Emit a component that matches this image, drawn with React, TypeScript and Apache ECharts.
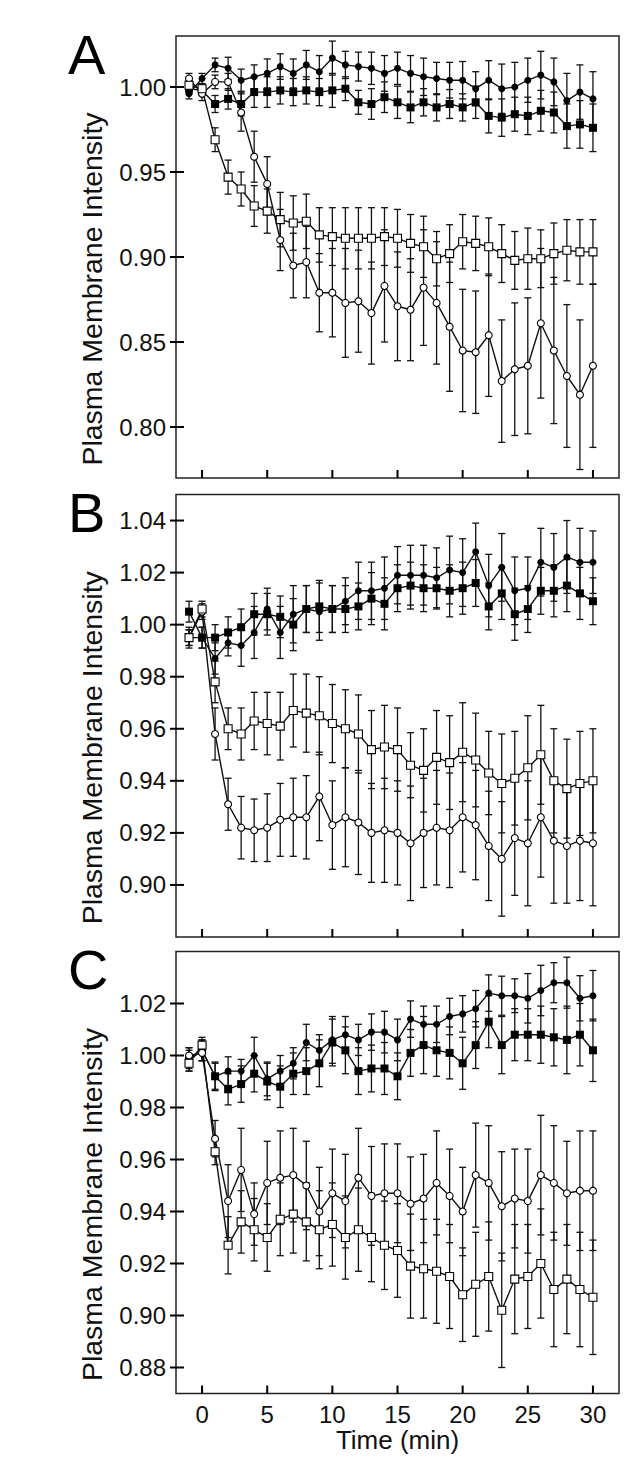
import * as echarts from 'echarts';
import type { ECharts, EChartsOption } from 'echarts';
import React, { useEffect, useRef } from 'react';

// time points (min)
const times = [-1, 0, 1, 2, 3, 4, 5, 6, 7, 8, 9, 10, 11, 12, 13, 14, 15, 16, 17, 18, 19, 20, 21, 22, 23, 24, 25, 26, 27, 28, 29, 30];

const xTicks = [0, 5, 10, 15, 20, 25, 30];
const aTicks = [0.80, 0.85, 0.90, 0.95, 1.00];
const bTicks = [0.90, 0.92, 0.94, 0.96, 0.98, 1.00, 1.02, 1.04];
const cTicks = [0.88, 0.90, 0.92, 0.94, 0.96, 0.98, 1.00, 1.02];

// Panel A
const aFilledCircle = [0.996, 1.005, 1.013, 1.011, 1.004, 1.006, 1.008, 1.012, 1.008, 1.013, 1.009, 1.017, 1.013, 1.012, 1.011, 1.008, 1.011, 1.008, 1.006, 1.005, 1.004, 1.004, 0.999, 1.004, 0.999, 1.000, 1.004, 1.007, 1.003, 0.992, 0.997, 0.993];
const aFilledCircleErr = [0.003, 0.003, 0.004, 0.0065, 0.0065, 0.007, 0.0085, 0.0075, 0.0085, 0.0085, 0.0095, 0.010, 0.008, 0.0085, 0.0095, 0.0105, 0.0095, 0.0105, 0.011, 0.0095, 0.0105, 0.011, 0.010, 0.0115, 0.0145, 0.0145, 0.013, 0.014, 0.014, 0.016, 0.016, 0.016];
const aFilledSquare = [0.999, 0.998, 0.990, 0.993, 0.990, 0.997, 0.997, 0.998, 0.997, 0.998, 0.997, 0.998, 0.999, 0.991, 0.990, 0.994, 0.991, 0.988, 0.991, 0.988, 0.990, 0.988, 0.991, 0.983, 0.982, 0.984, 0.983, 0.986, 0.985, 0.977, 0.978, 0.976];
const aFilledSquareErr = [0.003, 0.003, 0.005, 0.006, 0.007, 0.009, 0.009, 0.008, 0.008, 0.008, 0.008, 0.010, 0.007, 0.007, 0.009, 0.009, 0.0095, 0.009, 0.008, 0.008, 0.0085, 0.008, 0.0095, 0.010, 0.011, 0.010, 0.011, 0.012, 0.012, 0.013, 0.014, 0.014];
const aOpenCircle = [1.005, 0.996, 1.003, 1.003, 0.985, 0.959, 0.943, 0.910, 0.895, 0.897, 0.879, 0.879, 0.873, 0.874, 0.867, 0.883, 0.871, 0.869, 0.882, 0.873, 0.859, 0.845, 0.844, 0.854, 0.827, 0.834, 0.836, 0.861, 0.845, 0.830, 0.819, 0.836];
const aOpenCircleErr = [0.003, 0.004, 0.004, 0.005, 0.011, 0.015, 0.016, 0.018, 0.019, 0.021, 0.023, 0.026, 0.032, 0.030, 0.030, 0.033, 0.032, 0.030, 0.034, 0.036, 0.038, 0.036, 0.036, 0.036, 0.036, 0.039, 0.040, 0.044, 0.043, 0.042, 0.044, 0.048];
const aOpenSquare = [1.001, 0.999, 0.969, 0.947, 0.940, 0.930, 0.927, 0.922, 0.920, 0.921, 0.913, 0.912, 0.911, 0.911, 0.911, 0.912, 0.911, 0.908, 0.906, 0.899, 0.902, 0.909, 0.908, 0.906, 0.902, 0.898, 0.899, 0.899, 0.902, 0.904, 0.903, 0.903];
const aOpenSquareErr = [0.003, 0.003, 0.007, 0.010, 0.010, 0.012, 0.013, 0.016, 0.016, 0.016, 0.016, 0.017, 0.018, 0.018, 0.018, 0.017, 0.017, 0.017, 0.018, 0.016, 0.017, 0.016, 0.016, 0.017, 0.017, 0.017, 0.018, 0.017, 0.018, 0.018, 0.019, 0.019];

// Panel B
const bFilledCircle = [0.995, 0.995, 0.987, 0.993, 0.992, 0.997, 1.006, 0.997, 1.004, 1.006, 1.005, 1.006, 1.009, 1.013, 1.013, 1.014, 1.019, 1.019, 1.019, 1.018, 1.021, 1.020, 1.028, 1.015, 1.022, 1.013, 1.014, 1.024, 1.022, 1.026, 1.024, 1.024];
const bFilledCircleErr = [0.004, 0.004, 0.006, 0.005, 0.008, 0.010, 0.008, 0.010, 0.011, 0.009, 0.011, 0.009, 0.009, 0.011, 0.011, 0.012, 0.011, 0.0115, 0.0115, 0.0115, 0.013, 0.013, 0.011, 0.012, 0.013, 0.013, 0.012, 0.013, 0.013, 0.014, 0.013, 0.012];
const bFilledSquare = [1.005, 0.995, 0.995, 0.997, 0.999, 1.004, 1.004, 1.003, 1.000, 1.006, 1.007, 1.006, 1.006, 1.007, 1.010, 1.008, 1.014, 1.015, 1.014, 1.014, 1.013, 1.014, 1.016, 1.007, 1.012, 1.004, 1.006, 1.013, 1.013, 1.015, 1.012, 1.009];
const bFilledSquareErr = [0.004, 0.004, 0.005, 0.006, 0.007, 0.008, 0.008, 0.008, 0.010, 0.009, 0.010, 0.009, 0.009, 0.009, 0.010, 0.010, 0.009, 0.009, 0.009, 0.008, 0.010, 0.010, 0.009, 0.009, 0.010, 0.010, 0.009, 0.009, 0.010, 0.010, 0.010, 0.009];
const bOpenCircle = [0.995, 1.005, 0.958, 0.931, 0.922, 0.921, 0.922, 0.925, 0.926, 0.926, 0.934, 0.923, 0.926, 0.924, 0.920, 0.921, 0.920, 0.916, 0.920, 0.922, 0.921, 0.926, 0.923, 0.915, 0.910, 0.918, 0.916, 0.926, 0.917, 0.915, 0.917, 0.916];
const bOpenCircleErr = [0.003, 0.003, 0.010, 0.010, 0.012, 0.012, 0.013, 0.014, 0.015, 0.016, 0.017, 0.017, 0.019, 0.020, 0.019, 0.020, 0.020, 0.022, 0.021, 0.022, 0.022, 0.021, 0.021, 0.021, 0.022, 0.022, 0.024, 0.023, 0.024, 0.022, 0.023, 0.024];
const bOpenSquare = [0.995, 1.006, 0.978, 0.960, 0.958, 0.963, 0.962, 0.961, 0.967, 0.966, 0.965, 0.962, 0.960, 0.958, 0.952, 0.953, 0.952, 0.946, 0.944, 0.949, 0.947, 0.951, 0.948, 0.943, 0.939, 0.941, 0.945, 0.950, 0.940, 0.937, 0.939, 0.940];
const bOpenSquareErr = [0.003, 0.003, 0.008, 0.008, 0.010, 0.011, 0.012, 0.013, 0.014, 0.015, 0.015, 0.015, 0.015, 0.015, 0.015, 0.016, 0.016, 0.0125, 0.016, 0.018, 0.018, 0.019, 0.018, 0.016, 0.019, 0.018, 0.020, 0.019, 0.020, 0.019, 0.020, 0.020];

// Panel C
const cFilledCircle = [0.999, 1.002, 0.992, 0.994, 0.994, 1.000, 0.991, 0.994, 0.997, 1.005, 1.002, 1.006, 1.008, 1.006, 1.009, 1.009, 1.006, 1.014, 1.012, 1.012, 1.015, 1.016, 1.018, 1.024, 1.023, 1.023, 1.022, 1.025, 1.028, 1.028, 1.022, 1.023];
const cFilledCircleErr = [0.004, 0.004, 0.0055, 0.0055, 0.0045, 0.007, 0.0065, 0.006, 0.006, 0.007, 0.006, 0.009, 0.007, 0.006, 0.007, 0.008, 0.008, 0.007, 0.007, 0.007, 0.007, 0.007, 0.007, 0.007, 0.0075, 0.0065, 0.0095, 0.0097, 0.0077, 0.0098, 0.0087, 0.0097];
const cFilledSquare = [0.998, 1.002, 0.992, 0.987, 0.989, 0.993, 0.990, 0.988, 0.993, 0.994, 0.997, 1.005, 1.002, 0.994, 0.995, 0.995, 0.992, 1.001, 1.004, 1.002, 1.001, 0.997, 1.004, 1.013, 1.004, 1.008, 1.008, 1.008, 1.007, 1.006, 1.008, 1.002];
const cFilledSquareErr = [0.004, 0.004, 0.005, 0.006, 0.007, 0.007, 0.007, 0.008, 0.008, 0.009, 0.009, 0.009, 0.009, 0.009, 0.009, 0.010, 0.009, 0.009, 0.011, 0.010, 0.010, 0.010, 0.009, 0.010, 0.011, 0.010, 0.010, 0.011, 0.011, 0.013, 0.012, 0.012];
const cOpenCircle = [1.000, 1.001, 0.968, 0.944, 0.956, 0.939, 0.951, 0.953, 0.954, 0.950, 0.940, 0.947, 0.944, 0.953, 0.946, 0.947, 0.947, 0.943, 0.945, 0.951, 0.946, 0.940, 0.954, 0.951, 0.942, 0.945, 0.944, 0.954, 0.951, 0.947, 0.948, 0.948];
const cOpenCircleErr = [0.003, 0.003, 0.007, 0.014, 0.016, 0.012, 0.016, 0.018, 0.018, 0.017, 0.017, 0.017, 0.018, 0.019, 0.019, 0.019, 0.019, 0.018, 0.017, 0.020, 0.018, 0.017, 0.020, 0.022, 0.021, 0.019, 0.020, 0.023, 0.022, 0.020, 0.023, 0.023];
const cOpenSquare = [0.997, 1.004, 0.963, 0.927, 0.936, 0.933, 0.930, 0.937, 0.939, 0.936, 0.933, 0.935, 0.930, 0.933, 0.930, 0.927, 0.925, 0.919, 0.918, 0.917, 0.915, 0.908, 0.912, 0.915, 0.902, 0.914, 0.915, 0.920, 0.910, 0.914, 0.910, 0.907];
const cOpenSquareErr = [0.003, 0.003, 0.005, 0.011, 0.012, 0.012, 0.013, 0.014, 0.015, 0.015, 0.015, 0.016, 0.016, 0.016, 0.017, 0.017, 0.018, 0.020, 0.019, 0.020, 0.020, 0.018, 0.020, 0.021, 0.022, 0.021, 0.020, 0.021, 0.022, 0.021, 0.022, 0.022];

const FONT = '"Liberation Sans", Arial, Helvetica, sans-serif';
const INK = '#111';
const X_MIN = -2;
const X_MAX = 32;

type Marker = 'filledCircle' | 'filledSquare' | 'openCircle' | 'openSquare';

const errorBars = (idx: number, values: number[], errs: number[]) => ({
  type: 'custom' as const,
  xAxisIndex: idx,
  yAxisIndex: idx,
  z: 1,
  silent: true,
  encode: { x: 0, y: 1 },
  data: times.map((t, i) => [t, values[i], errs[i]]),
  renderItem: (params: any, api: any) => {
    const x = api.value(0);
    const y = api.value(1);
    const e = api.value(2);
    const top = api.coord([x, y + e]);
    const bot = api.coord([x, y - e]);
    const hw = 3.5;
    const style = { stroke: INK, lineWidth: 1.3 };
    return {
      type: 'group',
      children: [
        { type: 'line', shape: { x1: top[0], y1: top[1], x2: bot[0], y2: bot[1] }, style },
        { type: 'line', shape: { x1: top[0] - hw, y1: top[1], x2: top[0] + hw, y2: top[1] }, style },
        { type: 'line', shape: { x1: bot[0] - hw, y1: bot[1], x2: bot[0] + hw, y2: bot[1] }, style },
      ],
    };
  },
});

const lineSeries = (idx: number, name: string, values: number[], marker: Marker) => {
  const filled = marker === 'filledCircle' || marker === 'filledSquare';
  const square = marker === 'filledSquare' || marker === 'openSquare';
  return {
    type: 'line' as const,
    name,
    xAxisIndex: idx,
    yAxisIndex: idx,
    z: filled ? 3 : 4,
    data: times.map((t, i) => [t, values[i]]),
    symbol: square ? 'rect' : 'circle',
    symbolSize: square ? 8 : 7,
    showAllSymbol: true,
    lineStyle: { color: INK, width: 1.4 },
    itemStyle: filled
      ? { color: '#000', borderColor: '#000', borderWidth: 0 }
      : { color: '#fff', borderColor: '#000', borderWidth: 1.1 },
    emphasis: { disabled: true },
  };
};

const panelLayout = [
  { letter: 'A', top: 36, height: 442, min: 0.77, max: 1.03, ticks: aTicks },
  { letter: 'B', top: 494.5, height: 442.5, min: 0.88, max: 1.05, ticks: bTicks },
  { letter: 'C', top: 951.5, height: 442, min: 0.87, max: 1.04, ticks: cTicks },
];

const panelData = [
  [aFilledCircle, aFilledCircleErr, aFilledSquare, aFilledSquareErr, aOpenCircle, aOpenCircleErr, aOpenSquare, aOpenSquareErr],
  [bFilledCircle, bFilledCircleErr, bFilledSquare, bFilledSquareErr, bOpenCircle, bOpenCircleErr, bOpenSquare, bOpenSquareErr],
  [cFilledCircle, cFilledCircleErr, cFilledSquare, cFilledSquareErr, cOpenCircle, cOpenCircleErr, cOpenSquare, cOpenSquareErr],
];

const App: React.FC = () => {
  const chartRef = useRef<HTMLDivElement>(null);
  const chartInstance = useRef<ECharts | null>(null);

  useEffect(() => {
    document.body.style.margin = '0';
    if (!chartRef.current) return;
    const chart = echarts.init(chartRef.current, undefined, { renderer: 'svg' });
    chartInstance.current = chart;

    const left = 176;
    const width = 443;

    const grid = panelLayout.map((p) => ({
      left,
      top: p.top,
      width,
      height: p.height,
      show: true,
      borderColor: '#222',
      borderWidth: 1.5,
      backgroundColor: 'transparent',
    }));

    const xAxis = panelLayout.map((p, i) => ({
      type: 'value' as const,
      gridIndex: i,
      min: X_MIN,
      max: X_MAX,
      splitLine: { show: false },
      axisLine: { show: false, onZero: false },
      axisTick: { show: false },
      axisLabel: {
        show: i === 2,
        customValues: xTicks,
        fontSize: 24,
        fontFamily: FONT,
        color: INK,
        margin: 9,
      },
      name: i === 2 ? 'Time (min)' : '',
      nameLocation: 'middle' as const,
      nameGap: 33,
      nameTextStyle: { fontSize: 26, fontFamily: FONT, color: INK },
    }));

    const yAxis = panelLayout.map((p, i) => ({
      type: 'value' as const,
      gridIndex: i,
      position: 'left' as const,
      min: p.min,
      max: p.max,
      splitLine: { show: false },
      axisLine: { show: false, onZero: false },
      axisTick: { show: false },
      axisLabel: {
        customValues: p.ticks,
        formatter: (v: number) => v.toFixed(2),
        fontSize: 24,
        fontFamily: FONT,
        color: INK,
        margin: 10,
      },
    }));

    const series: any[] = [];
    panelData.forEach((d, i) => {
      const [fc, fcE, fs, fsE, oc, ocE, os, osE] = d;
      series.push(errorBars(i, fc, fcE));
      series.push(errorBars(i, fs, fsE));
      series.push(errorBars(i, oc, ocE));
      series.push(errorBars(i, os, osE));
      series.push(lineSeries(i, 'filled circle', fc, 'filledCircle'));
      series.push(lineSeries(i, 'filled square', fs, 'filledSquare'));
      series.push(lineSeries(i, 'open circle', oc, 'openCircle'));
      series.push(lineSeries(i, 'open square', os, 'openSquare'));
    });

    const graphic: any[] = [];
    panelLayout.forEach((p) => {
      graphic.push({
        type: 'text',
        left: 68,
        top: p.top - 10,
        style: { text: p.letter, fontSize: 56, fontFamily: FONT, fill: '#000' },
      });
      graphic.push({
        type: 'text',
        x: 92,
        y: p.top + p.height / 2 + 32,
        rotation: Math.PI / 2,
        style: {
          text: 'Plasma Membrane Intensity',
          fontSize: 28.5,
          fontFamily: FONT,
          fill: INK,
          align: 'center',
          verticalAlign: 'middle',
        },
      });
    });

    const option: EChartsOption = {
      animation: false,
      backgroundColor: '#fff',
      grid,
      xAxis,
      yAxis,
      series,
      graphic,
    } as EChartsOption;

    chart.setOption(option);

    // frame ticks, placed through each grid's scales
    const tickStyle = { stroke: '#000', lineWidth: 2 };
    const ticks: any[] = [];
    panelLayout.forEach((p, i) => {
      p.ticks.forEach((v) => {
        const pt = chart.convertToPixel({ gridIndex: i }, [X_MIN, v]) as number[];
        ticks.push({
          type: 'line',
          z: 100,
          silent: true,
          shape: { x1: pt[0] - 6, y1: pt[1], x2: pt[0] + 8, y2: pt[1] },
          style: tickStyle,
        });
      });
      xTicks.forEach((t) => {
        const pt = chart.convertToPixel({ gridIndex: i }, [t, p.min]) as number[];
        ticks.push({
          type: 'line',
          z: 100,
          silent: true,
          shape: { x1: pt[0], y1: pt[1], x2: pt[0], y2: pt[1] - 8 },
          style: tickStyle,
        });
      });
    });
    chart.setOption({ graphic: [...graphic, ...ticks] } as EChartsOption);

    return () => {
      if (chartInstance.current) {
        chartInstance.current.dispose();
        chartInstance.current = null;
      }
    };
  }, []);

  return (
    <div
      ref={chartRef}
      style={{ position: 'absolute', left: 0, top: 0, width: '640px', height: '1466px' }}
    />
  );
};

export default App;
